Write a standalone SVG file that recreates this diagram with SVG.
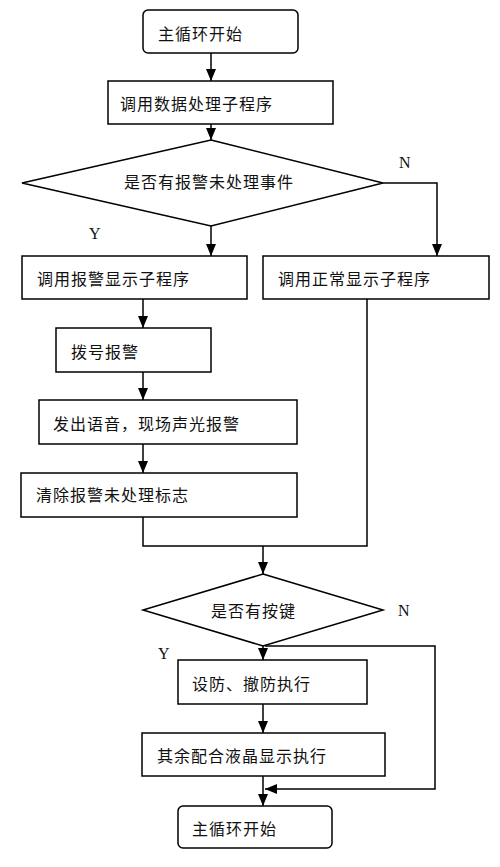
<svg xmlns="http://www.w3.org/2000/svg" width="500" height="867" viewBox="0 0 500 867">
<defs>
<marker id="ah" markerUnits="userSpaceOnUse" markerWidth="12" markerHeight="12" viewBox="0 0 12 12" refX="12" refY="6" orient="auto">
<path d="M0,1 L12,6 L0,11 Z" fill="#000"/>
</marker>
</defs>
<style>
.b{fill:#fff;stroke:#000;stroke-width:1.5}
.t{font-family:"Noto Sans CJK SC","Noto Sans",sans-serif;font-size:16px;letter-spacing:1px;fill:#111;dominant-baseline:central}
.l{font-family:"Liberation Serif",serif;font-size:16px;fill:#111;dominant-baseline:central}
.c{fill:none;stroke:#000;stroke-width:1.5}
</style>
<rect width="500" height="867" fill="#fff"/>
<g id="connectors">
<line class="c" x1="211" y1="53" x2="211" y2="81" marker-end="url(#ah)"/>
<line class="c" x1="211" y1="124" x2="211" y2="140" marker-end="url(#ah)"/>
<polyline class="c" points="383,183 437,183 437,256" marker-end="url(#ah)"/>
<line class="c" x1="211" y1="226" x2="211" y2="256" marker-end="url(#ah)"/>
<line class="c" x1="143" y1="299" x2="143" y2="328" marker-end="url(#ah)"/>
<line class="c" x1="143" y1="372" x2="143" y2="400" marker-end="url(#ah)"/>
<line class="c" x1="143" y1="444" x2="143" y2="473" marker-end="url(#ah)"/>
<polyline class="c" points="143,517 143,546 367,546 367,299"/>
<line class="c" x1="263" y1="546" x2="263" y2="574" marker-end="url(#ah)"/>
<line class="c" x1="263" y1="646" x2="263" y2="660" marker-end="url(#ah)"/>
<polyline class="c" points="265,646 435,646 435,789 265,789" marker-end="url(#ah)"/>
<line class="c" x1="263" y1="704" x2="263" y2="733" marker-end="url(#ah)"/>
<line class="c" x1="263" y1="776" x2="263" y2="806" marker-end="url(#ah)"/>
<text class="l" x="399" y="162">N</text>
<text class="l" x="89" y="233">Y</text>
<text class="l" x="398" y="610">N</text>
<text class="l" x="158" y="653">Y</text>
</g>
<g id="start">
<rect class="b" x="143" y="10" width="155" height="43" rx="5"/>
<text class="t" x="158" y="33">主循环开始</text>
</g>
<g id="data">
<rect class="b" x="108" y="81" width="225" height="43"/>
<text class="t" x="120" y="103">调用数据处理子程序</text>
</g>
<g id="dec1">
<polygon class="b" points="211,140 383,183 211,226 22,183"/>
<text class="t" x="124" y="181">是否有报警未处理事件</text>
</g>
<g id="alarmdisp">
<rect class="b" x="22" y="256" width="225" height="43"/>
<text class="t" x="37" y="278">调用报警显示子程序</text>
</g>
<g id="normdisp">
<rect class="b" x="263" y="256" width="226" height="43"/>
<text class="t" x="278" y="278">调用正常显示子程序</text>
</g>
<g id="dial">
<rect class="b" x="56" y="328" width="155" height="44"/>
<text class="t" x="71" y="351">拨号报警</text>
</g>
<g id="voice">
<rect class="b" x="39" y="400" width="258" height="44"/>
<text class="t" x="53" y="423">发出语音，现场声光报警</text>
</g>
<g id="clear">
<rect class="b" x="21" y="473" width="276" height="44"/>
<text class="t" x="36" y="494">清除报警未处理标志</text>
</g>
<g id="dec2">
<polygon class="b" points="263,574 383,610 263,646 143,610"/>
<text class="t" x="211" y="610">是否有按键</text>
</g>
<g id="arm">
<rect class="b" x="178" y="660" width="189" height="44"/>
<text class="t" x="192" y="683">设防、撤防执行</text>
</g>
<g id="lcd">
<rect class="b" x="142" y="733" width="243" height="43"/>
<text class="t" x="157" y="755">其余配合液晶显示执行</text>
</g>
<g id="end">
<rect class="b" x="178" y="806" width="154" height="42" rx="5"/>
<text class="t" x="192" y="828">主循环开始</text>
</g>
</svg>
